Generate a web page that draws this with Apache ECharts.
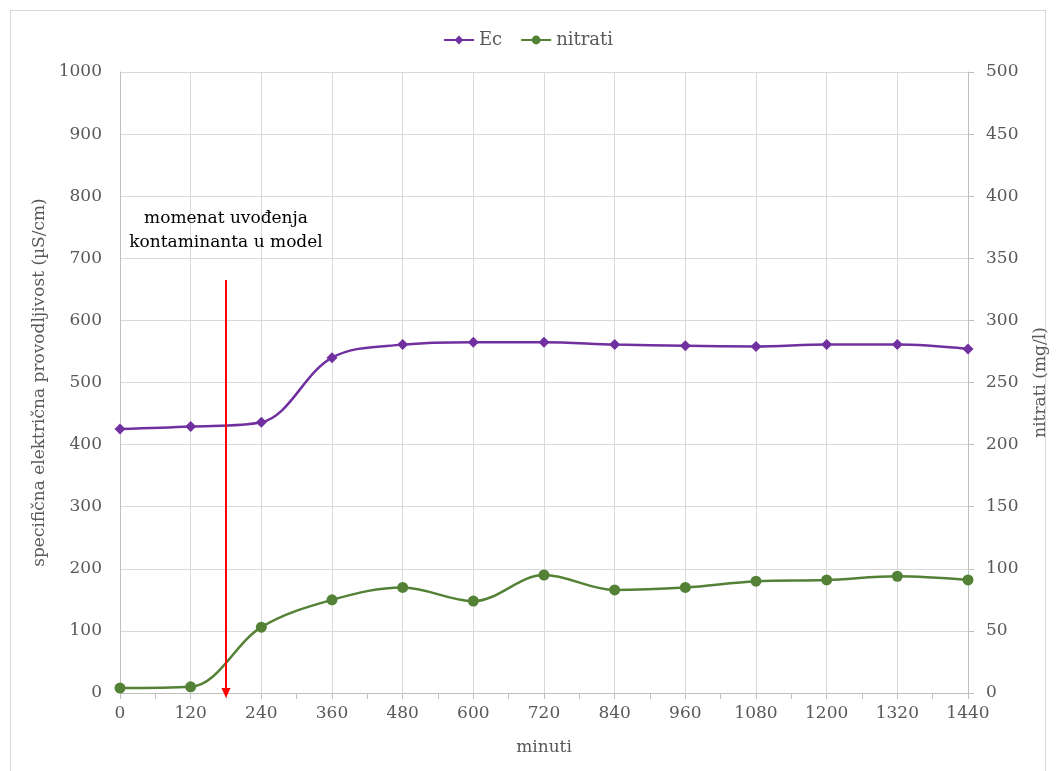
<!DOCTYPE html>
<html>
<head>
<meta charset="utf-8">
<script src="https://cdn.jsdelivr.net/npm/echarts@6/dist/echarts.min.js"></script>
<style>
  html, body { margin: 0; padding: 0; background: #fff; }
  #chart { width: 1056px; height: 771px; }
</style>
</head>
<body>
<div id="chart"></div>
<script>
// minuti
const minutes = [0, 120, 240, 360, 480, 600, 720, 840, 960, 1080, 1200, 1320, 1440]
// Ec (µS/cm), lijeva osa
const ecValues = [425, 429, 436, 540, 561, 565, 565, 561, 559, 558, 561, 561, 554]
// nitrati (mg/l), desna osa
const nitratiValues = [4, 5, 53, 75, 85, 74, 95, 83, 85, 90, 91, 94, 91]
// trenutak uvodjenja kontaminanta
const injectTime = 180
const arrowTop = 665
const noteLines = ['momenat uvođenja', 'kontaminanta u model']

const font = '"DejaVu Serif", serif'
const grey = '#595959'
const fs = 17

const chart = echarts.init(document.getElementById('chart'))

const toPairs = (xs, ys) => xs.map((x, i) => [x, ys[i]])
const plain = (v) => String(v)

chart.setOption({
  animation: false,
  textStyle: { fontFamily: font },
  graphic: [
    {
      type: 'rect',
      shape: { x: 10.5, y: 10.5, width: 1035, height: 770 },
      style: { fill: 'none', stroke: '#d9d9d9', lineWidth: 1 },
    },
  ],
  legend: {
    top: 26,
    left: 'center',
    itemWidth: 30,
    itemHeight: 11,
    itemGap: 18,
    textStyle: { fontFamily: font, fontSize: 18, color: grey },
    data: ['Ec', 'nitrati'],
  },
  grid: { left: 120, right: 88, top: 72, bottom: 78, outerBoundsMode: 'none', containLabel: false },
  xAxis: {
    type: 'value',
    min: 0,
    max: 1440,
    interval: 120,
    name: 'minuti',
    nameLocation: 'middle',
    nameGap: 46,
    nameTextStyle: { fontFamily: font, fontSize: fs, color: grey },
    axisLine: { lineStyle: { color: '#bfbfbf' } },
    axisTick: { show: true, length: 6, lineStyle: { color: '#bfbfbf' } },
    minorTick: { show: true, splitNumber: 2, length: 6, lineStyle: { color: '#bfbfbf' } },
    axisLabel: { fontFamily: font, fontSize: fs, color: grey, margin: 12, formatter: plain },
    splitLine: { show: true, lineStyle: { color: '#d9d9d9' } },
  },
  yAxis: [
    {
      type: 'value',
      min: 0,
      max: 1000,
      interval: 100,
      name: 'specifična električna provodljivost (µS/cm)',
      nameLocation: 'middle',
      nameGap: 67,
      nameTextStyle: { fontFamily: font, fontSize: fs, color: grey },
      axisLine: { show: true, lineStyle: { color: '#bfbfbf' } },
      axisTick: { show: false },
      axisLabel: { fontFamily: font, fontSize: fs, color: grey, margin: 18, formatter: plain },
      splitLine: { show: true, lineStyle: { color: '#d9d9d9' } },
    },
    {
      type: 'value',
      min: 0,
      max: 500,
      interval: 50,
      name: 'nitrati (mg/l)',
      nameLocation: 'middle',
      nameGap: 64,
      nameTextStyle: { fontFamily: font, fontSize: fs, color: grey },
      axisLine: { show: true, lineStyle: { color: '#bfbfbf' } },
      axisTick: { show: true, length: 6, lineStyle: { color: '#bfbfbf' } },
      axisLabel: { fontFamily: font, fontSize: fs, color: grey, margin: 18, formatter: plain },
      splitLine: { show: false },
    },
  ],
  series: [
    {
      name: 'Ec',
      type: 'line',
      yAxisIndex: 0,
      smooth: 0.35,
      symbol: 'diamond',
      symbolSize: 11,
      color: '#7030a0',
      lineStyle: { width: 2.5, color: '#7030a0' },
      data: toPairs(minutes, ecValues),
    },
    {
      name: 'nitrati',
      type: 'line',
      yAxisIndex: 1,
      smooth: 0.35,
      symbol: 'circle',
      symbolSize: 11,
      color: '#538135',
      lineStyle: { width: 2.5, color: '#538135' },
      data: toPairs(minutes, nitratiValues),
    },
    {
      // strelica + napomena
      name: 'arrow',
      type: 'line',
      yAxisIndex: 0,
      data: [],
      silent: true,
      markLine: {
        silent: true,
        symbol: ['none', 'triangle'],
        symbolSize: [9, 10],
        label: { show: false },
        lineStyle: { color: '#ff0000', width: 2, type: 'solid' },
        data: [[{ coord: [injectTime, arrowTop] }, { coord: [injectTime, 0] }]],
      },
      markPoint: {
        silent: true,
        symbol: 'rect',
        symbolSize: 1,
        itemStyle: { color: 'rgba(0,0,0,0)' },
        label: {
          show: true,
          position: 'inside',
          fontFamily: font,
          fontSize: 17,
          lineHeight: 24,
          color: '#000',
          align: 'center',
          formatter: noteLines.join('\n'),
        },
        data: [{ coord: [180, 745] }],
      },
    },
  ],
})
</script>
</body>
</html>
